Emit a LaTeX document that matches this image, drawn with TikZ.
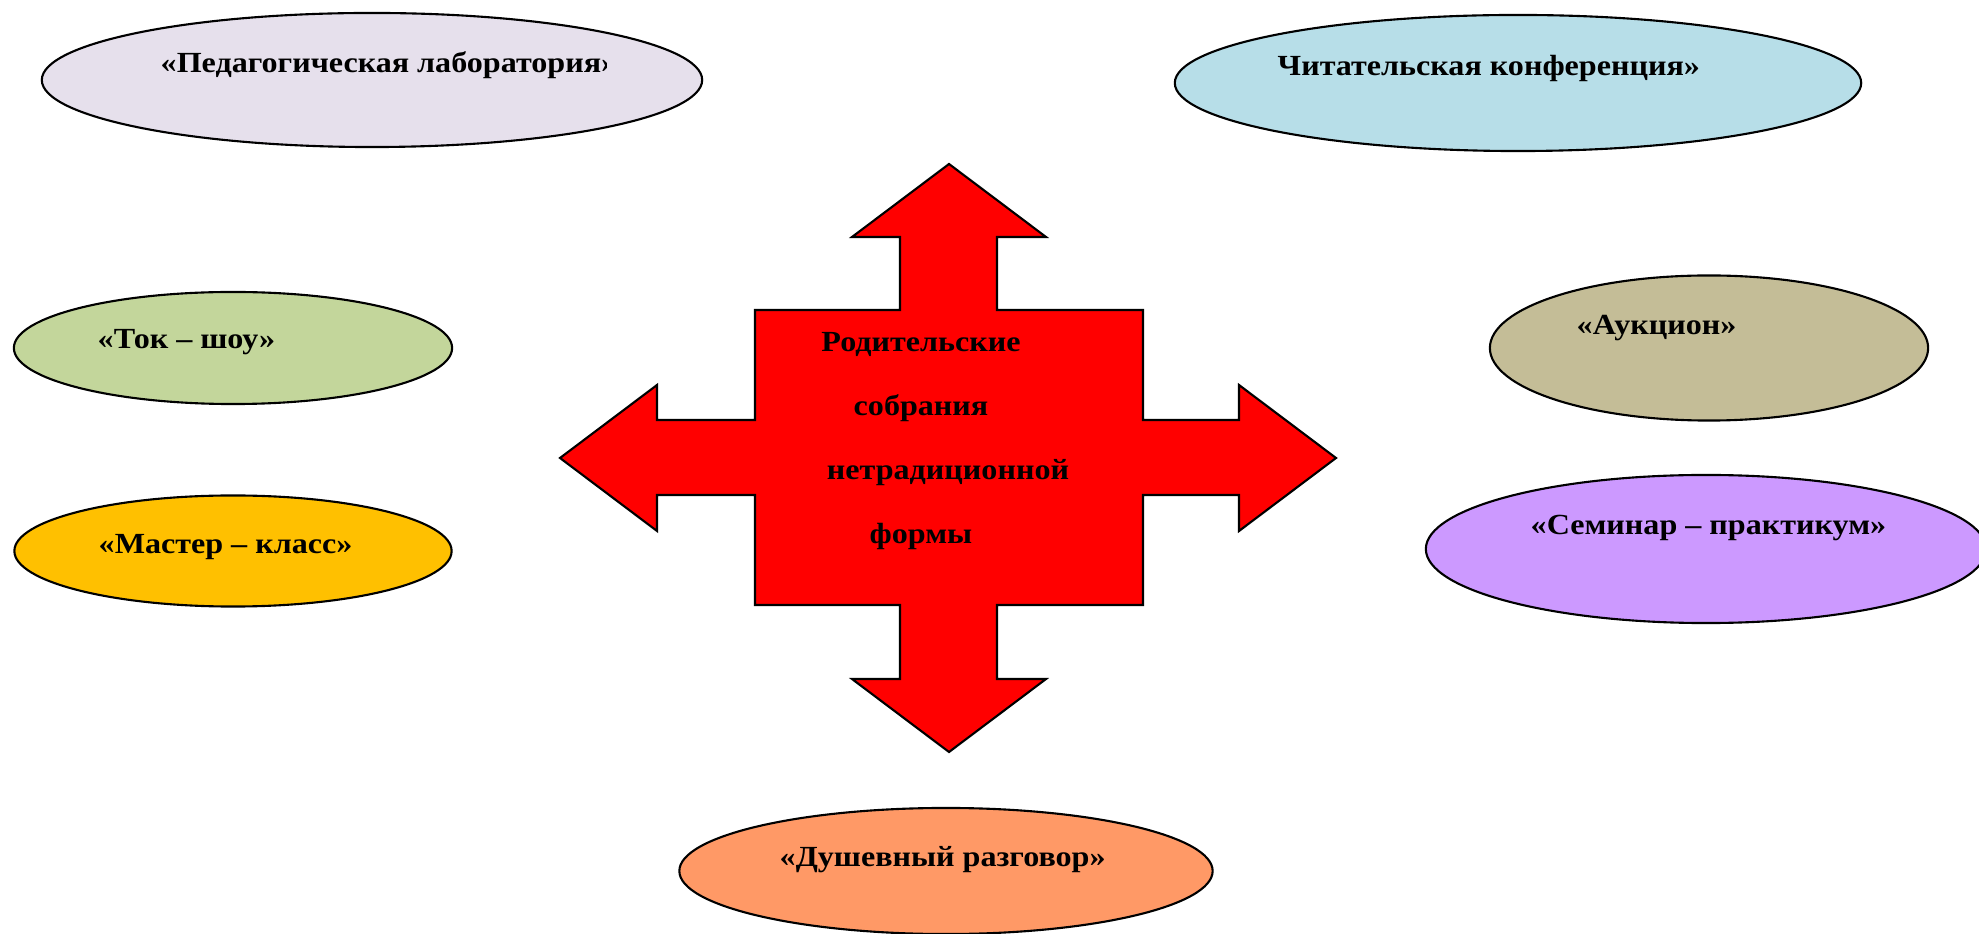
\documentclass[tikz,border=0pt]{standalone}
\usepackage{fontspec}
\setmainfont{Liberation Serif}[FakeStretch=1.10]
\usetikzlibrary{shapes.geometric}
\definecolor{lavender}{HTML}{E6E0EC}
\definecolor{skyblue}{HTML}{B7DEE8}
\definecolor{olivegreen}{HTML}{C3D69B}
\definecolor{amber}{HTML}{FFC000}
\definecolor{khaki}{HTML}{C4BD97}
\definecolor{lilac}{HTML}{CC99FF}
\definecolor{salmon}{HTML}{FF9966}
\begin{document}
\begin{tikzpicture}[
      x = 0.01cm, y = -0.01cm,
 oval/.style = {ellipse, draw, line width=0.6pt, inner sep=0pt},
 caption/.style = {anchor=west, inner sep=0pt,
                   font=\fontsize{8.3}{10}\selectfont\bfseries}
                    ]
\useasboundingbox (0,0) rectangle (1979,934);
% ovals
\node[oval, fill=lavender, minimum width=6.6cm, minimum height=1.34cm] (lab) at (372,80) {};
\node[oval, fill=skyblue, minimum width=6.86cm, minimum height=1.36cm] (conf) at (1518,83) {};
\node[oval, fill=olivegreen, minimum width=4.38cm, minimum height=1.12cm] (talk) at (233,348) {};
\node[oval, fill=amber, minimum width=4.37cm, minimum height=1.11cm] (master) at (233,551) {};
\node[oval, fill=khaki, minimum width=4.38cm, minimum height=1.45cm] (auction) at (1709,348) {};
\node[oval, fill=lilac, minimum width=5.6cm, minimum height=1.48cm] (seminar) at (1706,549) {};
\node[oval, fill=salmon, minimum width=5.33cm, minimum height=1.26cm] (chat) at (946,871) {};
% captions
\begin{scope}
  \clip (0,0) rectangle (606,160);
  \node[caption] (labtext) at (160,65) {«Педагогическая лаборатория»};
\end{scope}
\node[caption] (conftext) at (1277,68) {Читательская конференция»};
\node[caption] (talktext) at (97,342) {«Ток – шоу»};
\node[caption] (mastertext) at (98,547) {«Мастер – класс»};
\node[caption] (auctiontext) at (1576,328) {«Аукцион»};
\node[caption] (seminartext) at (1530,528) {«Семинар – практикум»};
\node[caption] (chattext) at (779,860) {«Душевный разговор»};
% cross of arrows
\draw[fill=red, line width=0.6pt]
    (949,164) -- (1046,237) -- (997,237) -- (997,310) -- (1143,310)
 -- (1143,420) -- (1239,420) -- (1239,385) -- (1336,458) -- (1239,531)
 -- (1239,495) -- (1143,495) -- (1143,605) -- (997,605) -- (997,679)
 -- (1046,679) -- (949,752) -- (852,679) -- (900,679) -- (900,605)
 -- (755,605) -- (755,495) -- (657,495) -- (657,531) -- (560,458)
 -- (657,385) -- (657,420) -- (755,420) -- (755,310) -- (900,310)
 -- (900,237) -- (852,237) -- cycle;
\node[inner sep=0pt, align=center, font=\fontsize{8.3}{18.2}\selectfont\bfseries]
    (title) at (921,441) {Родительские\\собрания\\\hspace{0.54cm}нетрадиционной\\формы};
\end{tikzpicture}
\end{document}
